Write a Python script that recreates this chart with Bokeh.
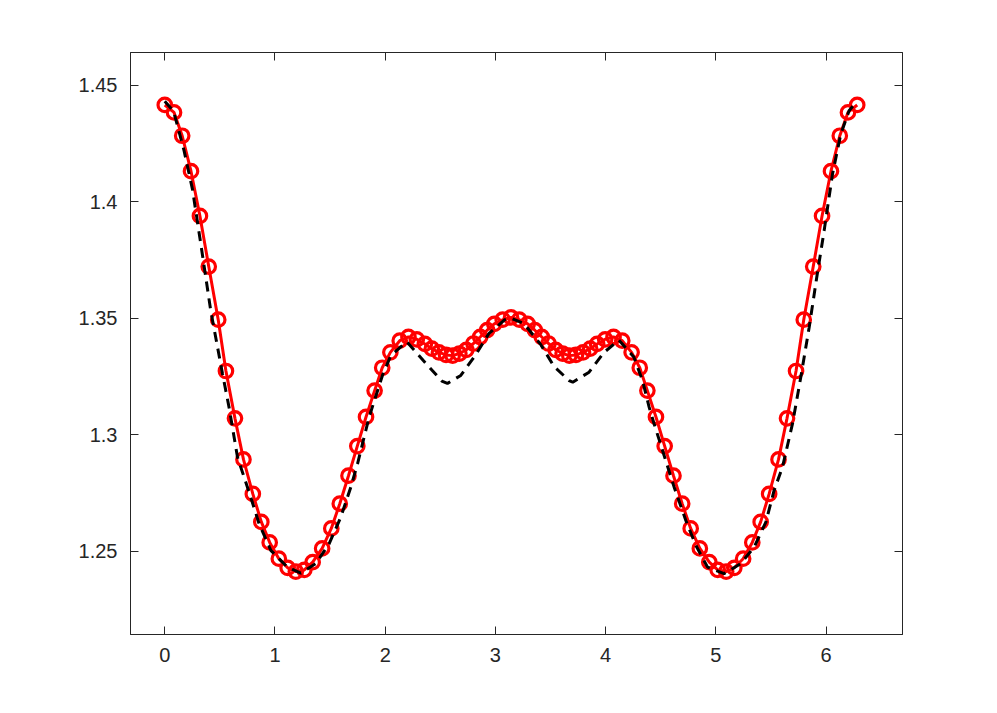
from bokeh.plotting import figure
from bokeh.models import Range1d, LinearAxis, FixedTicker
from bokeh.embed import file_html
from bokeh.resources import INLINE

# red solid line with circle markers
x_red = [0.000, 0.084, 0.158, 0.238, 0.319, 0.399, 0.485, 0.555, 0.637, 0.714,
         0.799, 0.876, 0.952, 1.035, 1.115, 1.189, 1.266, 1.342, 1.428, 1.511,
         1.588, 1.667, 1.747, 1.826, 1.904, 1.973, 2.047, 2.132, 2.211, 2.287,
         2.360, 2.423, 2.488, 2.552, 2.612, 2.673, 2.736, 2.801, 2.862, 2.925,
         2.990, 3.066, 3.142,
         3.217, 3.293, 3.358, 3.421, 3.482, 3.547, 3.610, 3.671, 3.731, 3.795,
         3.860, 3.923, 3.996, 4.072, 4.151, 4.236, 4.310, 4.379, 4.457, 4.536,
         4.616, 4.695, 4.772, 4.855, 4.941, 5.017, 5.094, 5.168, 5.248, 5.331,
         5.407, 5.484, 5.569, 5.646, 5.728, 5.798, 5.884, 5.964, 6.045, 6.125,
         6.199, 6.283]
y_red = [1.4415, 1.4383, 1.4283, 1.4131, 1.3939, 1.3722, 1.3494, 1.3274, 1.3071, 1.2895,
         1.2747, 1.2627, 1.2539, 1.2469, 1.2430, 1.2414, 1.2421, 1.2454, 1.2513, 1.2599,
         1.2705, 1.2825, 1.2952, 1.3077, 1.3190, 1.3288, 1.3354, 1.3404, 1.3420, 1.3410,
         1.3390, 1.3370, 1.3354, 1.3343, 1.3340, 1.3349, 1.3365, 1.3392, 1.3420, 1.3449,
         1.3476, 1.3494, 1.3504,
         1.3494, 1.3476, 1.3449, 1.3420, 1.3392, 1.3365, 1.3349, 1.3340, 1.3343, 1.3354,
         1.3370, 1.3390, 1.3410, 1.3420, 1.3404, 1.3354, 1.3288, 1.3190, 1.3077, 1.2952,
         1.2825, 1.2705, 1.2599, 1.2513, 1.2454, 1.2421, 1.2414, 1.2430, 1.2469, 1.2539,
         1.2627, 1.2747, 1.2895, 1.3071, 1.3274, 1.3494, 1.3722, 1.3939, 1.4131, 1.4283,
         1.4383, 1.4415]

# black dashed line
x_black = [0.000, 0.080, 0.175, 0.251, 0.327, 0.417, 0.524, 0.583, 0.660, 0.780,
           0.856, 0.962, 1.113, 1.234, 1.370, 1.491, 1.597, 1.688, 1.749, 1.854,
           1.975, 2.051, 2.196, 2.346, 2.514, 2.565, 2.686, 2.822, 2.940, 3.085,
           3.142, 3.260, 3.412, 3.533, 3.669, 3.702, 3.850, 3.984, 4.120, 4.256,
           4.335, 4.395, 4.440, 4.531, 4.622, 4.728, 4.819, 4.925, 5.075, 5.227,
           5.348, 5.454, 5.529, 5.605, 5.696, 5.771, 5.847, 5.916, 5.983, 6.059,
           6.134, 6.209, 6.283]
y_black = [1.4431, 1.4388, 1.4219, 1.4054, 1.3819, 1.3533, 1.3262, 1.3119, 1.2904, 1.2733,
           1.2619, 1.2505, 1.2433, 1.2407, 1.2448, 1.2533, 1.2647, 1.2776, 1.2876, 1.3076,
           1.3255, 1.3340, 1.3400, 1.3319, 1.3231, 1.3221, 1.3255, 1.3344, 1.3434, 1.3494,
           1.3501, 1.3477, 1.3387, 1.3293, 1.3233, 1.3226, 1.3269, 1.3353, 1.3407, 1.3334,
           1.3233, 1.3119, 1.3048, 1.2912, 1.2776, 1.2633, 1.2526, 1.2433, 1.2405, 1.2448,
           1.2519, 1.2626, 1.2762, 1.2862, 1.3048, 1.3247, 1.3461, 1.3676, 1.3876, 1.4119,
           1.4290, 1.4390, 1.4433]

x_ticks = [0, 1, 2, 3, 4, 5, 6]
y_ticks = [1.25, 1.3, 1.35, 1.4, 1.45]
y_tick_labels = ["1.25", "1.3", "1.35", "1.4", "1.45"]

AX = "#262626"
FONT = "Liberation Sans"

p = figure(frame_width=772, frame_height=582,
           min_border_left=130, min_border_right=80,
           min_border_top=52, min_border_bottom=60,
           x_range=Range1d(-0.311, 6.694), y_range=Range1d(1.2144, 1.464),
           output_backend="svg", toolbar_location=None,
           x_axis_location=None, y_axis_location=None)
p.grid.visible = False
p.outline_line_color = AX
p.outline_line_width = 1
p.background_fill_color = "white"
p.border_fill_color = "white"


def style_axis(ax, ticks, labels=True, overrides=None):
    ax.ticker = FixedTicker(ticks=ticks)
    ax.axis_line_color = AX
    ax.axis_line_width = 1
    ax.major_tick_line_color = AX
    ax.major_tick_line_width = 1
    ax.major_tick_in = 8
    ax.major_tick_out = 0
    ax.minor_tick_line_color = None
    if overrides:
        ax.major_label_overrides = overrides
    if labels:
        ax.major_label_text_font = FONT
        ax.major_label_text_font_size = "20px"
        ax.major_label_text_color = AX
    else:
        ax.major_label_text_font_size = "0px"
        ax.major_label_text_alpha = 0
        ax.major_label_standoff = 0


xb = LinearAxis()
style_axis(xb, x_ticks)
xb.major_label_standoff = 13
p.add_layout(xb, "below")

yl = LinearAxis()
style_axis(yl, y_ticks, overrides={t: s for t, s in zip(y_ticks, y_tick_labels)})
yl.major_label_standoff = 13
p.add_layout(yl, "left")

xt = LinearAxis()
style_axis(xt, x_ticks, labels=False)
p.add_layout(xt, "above")

yr = LinearAxis()
style_axis(yr, y_ticks, labels=False)
p.add_layout(yr, "right")

RED = "#ff0000"
p.line(x_red, y_red, line_color=RED, line_width=3)
p.scatter(x_red, y_red, marker="circle", size=13.5, fill_color=None,
          line_color=RED, line_width=3.2)
p.line(x_black, y_black, line_color="black", line_width=3, line_dash="10 7")

open("out.html", "w").write(file_html(p, INLINE))
